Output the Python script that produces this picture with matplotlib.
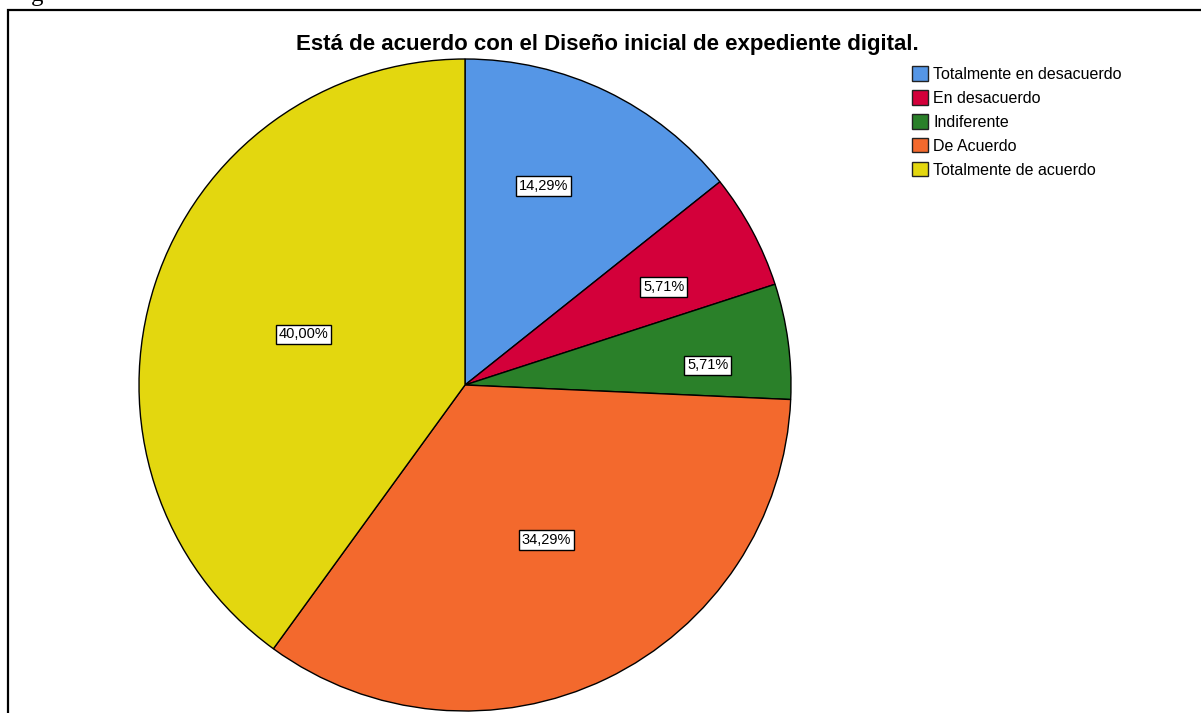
import matplotlib
matplotlib.use('Agg')
import matplotlib.pyplot as plt
from matplotlib.patches import Rectangle
import numpy as np

plt.rcParams['font.family'] = ['Liberation Sans', 'DejaVu Sans']

title = 'Está de acuerdo con el Diseño inicial de expediente digital.'
categories = ['Totalmente en desacuerdo', 'En desacuerdo', 'Indiferente',
              'De Acuerdo', 'Totalmente de acuerdo']
percents = [14.29, 5.71, 5.71, 34.29, 40.00]
colors = ['#5596e6', '#d3003a', '#2a8029', '#f3692d', '#e3d70f']

# where SPSS put each percentage box (x, y in pie radius units)
label_pos = [(0.24, 0.61), (0.61, 0.30), (0.745, 0.06), (0.25, -0.475), (-0.495, 0.155)]

fig = plt.figure(figsize=(12.01, 7.13), dpi=100)

# outer frame of the chart (runs off right/bottom edge)
fig.patches.append(Rectangle((8 / 1201, -0.1), 1.2, 1 - 10 / 713 + 0.1,
                             transform=fig.transFigure, fill=False,
                             edgecolor='black', linewidth=1.6))
# cut-off caption above the frame (only the tail of the "g" shows)
fig.text(31 / 1201, 1 - 0.5 / 713, 'g', family='Liberation Serif', fontsize=18,
         va='baseline', ha='left')

ax = fig.add_axes([139 / 1201, 2 / 713, 652 / 1201, 652 / 713])
wedges, _ = ax.pie(percents, colors=colors, startangle=90, counterclock=False,
                   radius=1.0,
                   wedgeprops=dict(edgecolor='black', linewidth=1.0))
ax.set_xlim(-1, 1)
ax.set_ylim(-1, 1)
ax.set_aspect('equal')
ax.axis('off')

for p, (x, y) in zip(percents, label_pos):
    ax.text(x, y, f'{p:.2f}%'.replace('.', ','), ha='center', va='center',
            fontsize=10.5,
            bbox=dict(boxstyle='square,pad=0.2', facecolor='white',
                      edgecolor='black', linewidth=1.0))

fig.text(607 / 1201, 1 - 50 / 713, title, ha='center', va='baseline',
         fontsize=16, fontweight='bold')

handles = [Rectangle((0, 0), 1, 1, facecolor=c, edgecolor='#222222', linewidth=1.0)
           for c in colors]
fig.legend(handles, categories, loc='upper left',
           bbox_to_anchor=(906 / 1201, 1 - 60 / 713), frameon=False,
           fontsize=11.5, handlelength=1.0, handleheight=1.0,
           handletextpad=0.3, labelspacing=0.52, borderaxespad=0)

fig.savefig('out.png', dpi=100)
